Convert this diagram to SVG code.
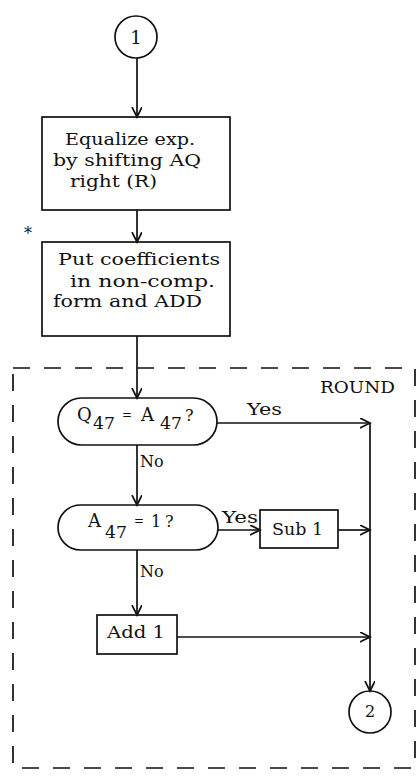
<svg xmlns="http://www.w3.org/2000/svg" width="419" height="782" viewBox="0 0 419 782">
<style>
.s{fill:none;stroke:#111;stroke-width:1.7}
.t{font-family:"DejaVu Serif","Liberation Serif",serif;font-size:16px;fill:#111}
.big{font-size:18px}
.sm{font-size:12px}
.c{stroke:#111;stroke-width:1.7;fill:none;marker-end:url(#a)}
</style>
<defs>
<marker id="a" markerUnits="userSpaceOnUse" markerWidth="12" markerHeight="12" refX="10" refY="5" orient="auto">
<path d="M0,0 L10,5 L0,10" fill="none" stroke="#111" stroke-width="1.7"/>
</marker>
</defs>
<rect width="419" height="782" fill="#fff"/>
<g id="round-box">
<path class="s" d="M13,368 H415 V768 H13 Z" stroke-dasharray="17 14"/>
<text class="t" x="320" y="393" textLength="75" lengthAdjust="spacingAndGlyphs">ROUND</text>
</g>
<g id="start">
<circle class="s" cx="136" cy="37" r="21"/>
<text class="t big" x="136" y="44" text-anchor="middle">1</text>
</g>
<g id="equalize">
<rect class="s" x="42" y="117" width="188" height="93"/>
<text class="t" x="65" y="145" textLength="130" lengthAdjust="spacingAndGlyphs">Equalize exp.</text>
<text class="t" x="53" y="166" textLength="148" lengthAdjust="spacingAndGlyphs">by shifting AQ</text>
<text class="t" x="70" y="187" textLength="87" lengthAdjust="spacingAndGlyphs">right (R)</text>
</g>
<text class="t" x="28" y="239" text-anchor="middle">*</text>
<g id="put-coeff">
<rect class="s" x="42" y="242" width="188" height="94"/>
<text class="t" x="58" y="265" textLength="162" lengthAdjust="spacingAndGlyphs">Put coefficients</text>
<text class="t" x="70" y="287" textLength="145" lengthAdjust="spacingAndGlyphs">in non-comp.</text>
<text class="t" x="53" y="307" textLength="149" lengthAdjust="spacingAndGlyphs">form and ADD</text>
</g>
<g id="q47">
<rect class="s" x="58" y="398" width="159" height="47" rx="23.5"/>
<text class="t big" x="77" y="421">Q</text>
<text class="t" x="93" y="429" textLength="22" lengthAdjust="spacingAndGlyphs">47</text>
<text class="t sm" x="122" y="419">=</text>
<text class="t big" x="141" y="421">A</text>
<text class="t" x="160" y="429" textLength="22" lengthAdjust="spacingAndGlyphs">47</text>
<text class="t" x="185" y="421">?</text>
</g>
<g id="a47">
<rect class="s" x="58" y="505" width="160" height="45" rx="22.5"/>
<text class="t big" x="88" y="527">A</text>
<text class="t" x="105" y="538" textLength="22" lengthAdjust="spacingAndGlyphs">47</text>
<text class="t sm" x="134" y="525">=</text>
<text class="t" x="151" y="527">1</text>
<text class="t" x="165" y="527">?</text>
</g>
<g id="sub1">
<rect class="s" x="260" y="510" width="78" height="38"/>
<text class="t" x="272" y="535" textLength="51" lengthAdjust="spacingAndGlyphs">Sub 1</text>
</g>
<g id="add1">
<rect class="s" x="97" y="615" width="80" height="39"/>
<text class="t" x="107" y="638" textLength="58" lengthAdjust="spacingAndGlyphs">Add 1</text>
</g>
<g id="end">
<circle class="s" cx="370" cy="712" r="21"/>
<text class="t" x="370" y="717" text-anchor="middle">2</text>
</g>
<g id="connectors">
<line class="c" x1="137" y1="58" x2="137" y2="117"/>
<line class="c" x1="137" y1="210" x2="137" y2="242"/>
<line class="c" x1="137" y1="336" x2="137" y2="398"/>
<line class="c" x1="137" y1="445" x2="137" y2="505"/>
<line class="c" x1="137" y1="550" x2="137" y2="615"/>
<line class="c" x1="217" y1="423" x2="370" y2="423"/>
<line class="c" x1="218" y1="530" x2="260" y2="530"/>
<line class="c" x1="338" y1="530" x2="370" y2="530"/>
<line class="c" x1="177" y1="637" x2="370" y2="637"/>
<line class="c" x1="370" y1="423" x2="370" y2="691"/>
<text class="t" x="247" y="415" textLength="35" lengthAdjust="spacingAndGlyphs">Yes</text>
<text class="t" x="140" y="467">No</text>
<text class="t" x="222" y="523" textLength="36" lengthAdjust="spacingAndGlyphs">Yes</text>
<text class="t" x="140" y="577">No</text>
</g>
</svg>
